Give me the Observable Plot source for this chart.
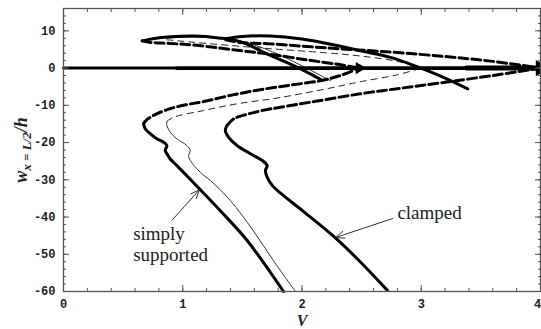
<!DOCTYPE html>
<html><head><meta charset="utf-8">
<script src="https://cdn.jsdelivr.net/npm/d3@7"></script>
<script src="https://cdn.jsdelivr.net/npm/@observablehq/plot@0.6"></script>
<style>body{margin:0;background:#fff}</style>
</head><body><div id="chart"></div>
<script>
// ---- data (V, w) ----
// simply supported, thick
const ssStableV = [0.671,0.685,0.727,0.783,0.839,0.867,0.853,0.867,0.895,0.951,1.13,1.315,1.54,1.845];
const ssStableW = [-14.96,-16.3,-17.6,-19.0,-19.9,-20.8,-22.1,-23.0,-24.4,-26.2,-32.1,-38.3,-46.3,-60];
const ssUnstableLowV = [0.671,0.685,0.755,0.895,1.035,1.175,1.42,1.65,1.9,2.17,2.33,2.48];
const ssUnstableLowW = [-14.96,-14.3,-12.7,-10.9,-9.8,-9.0,-7.2,-5.8,-4.6,-3.3,-1.9,0];
const ssUpperV = [0.66,0.75,0.9,1.1,1.3,1.48,1.735,2.0,2.17];
const ssUpperW = [7.3,7.9,8.4,8.6,8.1,7.1,3.4,-0.4,-3.3];
const ssUpperUnstableV = [0.66,0.73,0.9,1.12,1.48,1.735,2.04,2.3,2.48];
const ssUpperUnstableW = [7.3,6.9,6.6,6.1,4.7,3.7,2.2,1.0,0];
// simply supported, thin
const ssThinStableV = [0.867,0.867,0.895,0.951,1.035,1.063,1.049,1.063,1.147,1.231,1.4,1.592,1.76,1.945];
const ssThinStableW = [-14.3,-15.4,-17.2,-19.0,-20.8,-22.1,-23.5,-24.8,-28.0,-30.2,-35.6,-43.7,-51.7,-60];
const ssThinUnstableLowV = [0.867,0.923,1.175,1.455,1.8,2.2,2.5,2.8,3.0];
const ssThinUnstableLowW = [-14.3,-13.2,-11.4,-9.6,-8.0,-5.6,-3.6,-1.8,0];
const ssThinUpperV = [0.867,1.0,1.2,1.48,1.75,2.0,2.24];
const ssThinUpperW = [8.0,8.3,8.2,7.3,4.4,0.6,-3.4];
const ssThinUpperUnstableV = [0.867,1.1,1.5,1.735,2.2,2.5,2.8,3.0];
const ssThinUpperUnstableW = [7.6,6.9,5.8,5.2,4.1,3.2,1.8,0];
// clamped, thick
const clStableV = [1.371,1.357,1.385,1.455,1.567,1.666,1.708,1.693,1.708,1.75,1.82,2.0,2.28,2.5,2.716];
const clStableW = [-15.4,-16.8,-18.6,-20.8,-23.0,-24.8,-26.2,-27.5,-29.3,-31.5,-33.6,-38.2,-45.6,-52.4,-59.7];
const clUnstableLowV = [1.371,1.43,1.54,1.68,1.82,2.1,2.49,2.83,3.2,3.6,4.0];
const clUnstableLowW = [-15.4,-13.6,-12.4,-11.3,-10.5,-9.0,-6.9,-5.4,-3.8,-2.0,0];
const clUpperV = [1.36,1.5,1.735,2.0,2.21,2.5,2.75,2.97,3.2,3.39];
const clUpperW = [7.9,8.5,8.6,7.8,6.6,4.6,2.8,0.3,-2.7,-5.6];
const clUpperUnstableV = [1.36,1.48,1.735,2.21,2.74,3.2,3.6,4.0];
const clUpperUnstableW = [7.6,6.9,6.5,5.4,4.3,3.1,1.8,0];
// trivial branch w = 0
const zeroV1 = [0, 0.95];
const zeroV2 = [0.95, 3.38];
const zeroV3 = [3.38, 4];
// ticks
const xMajor = [0,1,2,3];
const xLast = [4];
const yMajor = [-60,-50,-40,-30,-20,-10,0,10];
const xMinor = d3.range(0, 4.0001, 0.2);
const yMinor = d3.range(-60, 16.001, 2);
// annotations
const notes = [
  {label:"simply", v:0.584, w:-44.4},
  {label:"supported", v:0.584, w:-50.2},
  {label:"clamped", v:2.80, w:-38.8}
];
const pointers = [
  {v1:0.909, w1:-40.9, v2:1.139, w2:-32.7},
  {v1:2.76, w1:-40.4, v2:2.282, w2:-45.5}
];
const tipsSmall = [{v:2.48, w:0}];
const tipsBig = [{v:4, w:0}];

const rows = (V, W) => V.map((v, i) => ({v, w: W[i]}));
const thickSolid = [[ssStableV, ssStableW],[ssUpperV, ssUpperW],[clStableV, clStableW],[clUpperV, clUpperW]];
const thickDashed = [[ssUnstableLowV, ssUnstableLowW],[ssUpperUnstableV, ssUpperUnstableW],[clUnstableLowV, clUnstableLowW],[clUpperUnstableV, clUpperUnstableW]];
const thinSolid = [[ssThinStableV, ssThinStableW],[ssThinUpperV, ssThinUpperW]];
const thinDashed = [[ssThinUnstableLowV, ssThinUnstableLowW],[ssThinUpperUnstableV, ssThinUpperUnstableW]];

const tickFont = {fontFamily:"Liberation Mono", fontSize:12, fill:"#222", fontWeight:"bold"};
const axisStroke = "#555";

const plot = Plot.plot({
  width: 541, height: 329,
  marginLeft: 63, marginRight: 1, marginTop: 8, marginBottom: 38,
  x: {domain: [0, 4]},
  y: {domain: [-60, 16]},
  style: {background: "white"},
  marks: [
    ...thinSolid.map(([V, W]) => Plot.line(rows(V, W), {x:"v", y:"w", stroke:"#333", strokeWidth:1, curve:"catmull-rom"})),
    ...thinDashed.map(([V, W]) => Plot.line(rows(V, W), {x:"v", y:"w", stroke:"#222", strokeWidth:1, strokeDasharray:"6,5", curve:"catmull-rom"})),
    ...thickDashed.map(([V, W]) => Plot.line(rows(V, W), {x:"v", y:"w", stroke:"black", strokeWidth:3, strokeDasharray:"9,4", curve:"catmull-rom"})),
    ...thickSolid.map(([V, W]) => Plot.line(rows(V, W), {x:"v", y:"w", stroke:"black", strokeWidth:3, curve:"catmull-rom", strokeLinecap:"round"})),
    Plot.line(zeroV1.map(v => ({v, w:0})), {x:"v", y:"w", stroke:"black", strokeWidth:3}),
    Plot.line(zeroV2.map(v => ({v, w:0})), {x:"v", y:"w", stroke:"black", strokeWidth:3.6}),
    Plot.line(zeroV3.map(v => ({v, w:0})), {x:"v", y:"w", stroke:"black", strokeWidth:5}),
    Plot.dot(tipsSmall, {x:"v", y:"w", symbol:"triangle", rotate:90, r:4.5, fill:"black"}),
    Plot.dot(tipsBig, {x:"v", y:"w", symbol:"triangle", rotate:90, r:6, fill:"black"}),
    Plot.frame({stroke: axisStroke, strokeWidth: 1.3}),
    Plot.axisX(xMinor, {anchor:"bottom", tickSize:-3, text:null, stroke:axisStroke}),
    Plot.axisX(xMinor, {anchor:"top", tickSize:-3, text:null, stroke:axisStroke}),
    Plot.axisX([...xMajor, ...xLast], {anchor:"bottom", tickSize:-6, text:null, stroke:axisStroke}),
    Plot.axisX([...xMajor, ...xLast], {anchor:"top", tickSize:-6, text:null, stroke:axisStroke}),
    Plot.axisY(yMinor, {anchor:"left", tickSize:-3, text:null, stroke:axisStroke}),
    Plot.axisY(yMinor, {anchor:"right", tickSize:-3, text:null, stroke:axisStroke}),
    Plot.axisY(yMajor, {anchor:"left", tickSize:-6, text:null, stroke:axisStroke}),
    Plot.axisY(yMajor, {anchor:"right", tickSize:-6, text:null, stroke:axisStroke}),
    Plot.axisX(xMajor, {anchor:"bottom", tickSize:0, tickPadding:8, label:null, tickFormat:d => String(d), ...tickFont}),
    Plot.axisX(xLast, {anchor:"bottom", tickSize:0, tickPadding:8, label:null, tickFormat:d => String(d), dx:-3, ...tickFont}),
    Plot.axisY(yMajor, {anchor:"left", tickSize:0, tickPadding:8, label:null, tickFormat:d => String(d), ...tickFont}),
    Plot.arrow(pointers, {x1:"v1", y1:"w1", x2:"v2", y2:"w2", stroke:"#333", strokeWidth:1, headLength:14, headAngle:45}),
    Plot.text(notes, {x:"v", y:"w", text:"label", textAnchor:"start", fontFamily:"Liberation Serif", fontSize:19, fill:"#222"})
  ]
});

const svg = d3.select(plot);
const yl = svg.append("text")
  .attr("transform", "translate(27,150) rotate(-90)")
  .attr("text-anchor", "middle")
  .attr("font-family", "Liberation Serif")
  .attr("font-weight", "bold").attr("font-style", "italic")
  .attr("font-size", 18).attr("fill", "#222");
yl.append("tspan").text("w");
yl.append("tspan").attr("font-size", 13).attr("dy", 4).text("x = L/2");
yl.append("tspan").attr("dy", -4).text("/h");
svg.append("text")
  .attr("x", 302).attr("y", 326).attr("text-anchor", "middle")
  .attr("font-family", "Liberation Serif")
  .attr("font-weight", "bold").attr("font-style", "italic")
  .attr("font-size", 16).attr("fill", "#222").text("V");

document.getElementById("chart").appendChild(plot);
</script>
</body></html>
